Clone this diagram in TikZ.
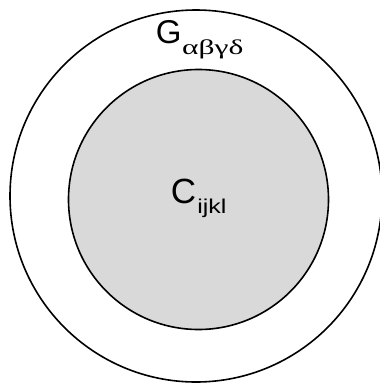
\documentclass[tikz,border=0pt]{standalone}
\usepackage{fontspec}
\setmainfont{Liberation Sans}
\newfontfamily\greekfont{Liberation Serif}
\definecolor{fillgray}{HTML}{D9D9D9}
\tikzset{
  ring/.style={draw=black, line width=1.6pt},
  lbl/.style={anchor=base west, inner sep=0pt, outer sep=0pt}
}
\begin{document}
\begin{tikzpicture}[x=1pt,y=-1pt]
\useasboundingbox (0,0) rectangle (380,384);
\clip (0,0) rectangle (380,384);
\fill[white] (0,0) rectangle (380,384);
\node[ring, circle, minimum size=372pt, inner sep=0pt] (outer) at (196,196) {};
\node[ring, circle, fill=fillgray, minimum size=260pt, inner sep=0pt] (inner) at (198.5,199.5) {};
\node[lbl] (glabel) at (156,43) {\fontsize{33}{34}\selectfont G\kern0.5pt\lower11pt\hbox{\greekfont\fontsize{21}{21}\selectfont\scalebox{1.5}[1]{αβγδ}}};
\node[lbl] (clabel) at (171,203) {\fontsize{35}{36}\selectfont C\kern1pt\lower10pt\hbox{\fontsize{20}{20}\selectfont\scalebox{1.25}[1]{ijkl}}};
\end{tikzpicture}
\end{document}
